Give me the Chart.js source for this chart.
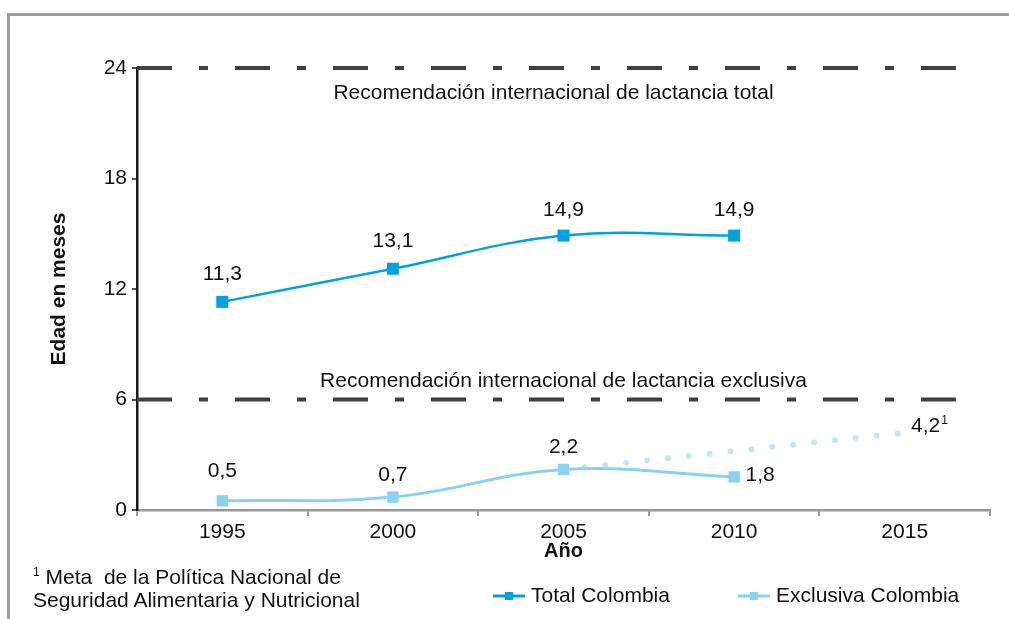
<!DOCTYPE html>
<html>
<head>
<meta charset="utf-8">
<script src="https://cdn.jsdelivr.net/npm/chart.js@4"></script>
<style>
  html, body { margin: 0; padding: 0; background: #fff; }
  body { width: 1009px; height: 619px; position: relative; overflow: hidden; font-family: "Liberation Sans", Arial, sans-serif; }
  #frame { position: absolute; left: 7px; top: 13px; right: -5px; bottom: -5px; border-top: 3px solid #9e9e9e; border-left: 3px solid #9e9e9e; }
  #chart { position: absolute; left: 0; top: 0; }
  #note { position: absolute; left: 33px; top: 565px; font-size: 21px; line-height: 23px; color: #111; }
  #note sup { font-size: 12px; vertical-align: 8px; line-height: 0; }
</style>
</head>
<body>
<div id="frame"></div>
<canvas id="chart" width="1009" height="619"></canvas>
<div id="note"><sup>1</sup> Meta&nbsp; de la Política Nacional de<br>Seguridad Alimentaria y Nutricional</div>
<script>
// values
const years = [1995, 2000, 2005, 2010]
const totalValues = [11.3, 13.1, 14.9, 14.9]
const exclusiveValues = [0.5, 0.7, 2.2, 1.8]
const goalYears = [2005, 2015]
const goalValues = [2.2, 4.2]
const totalText = ['11,3', '13,1', '14,9', '14,9']
const exclusiveText = ['0,5', '0,7', '2,2', '1,8']
const goalText = ['', '4,2']
const tickYears = [1995, 2000, 2005, 2010, 2015]
const xRange = [1992.5, 2017.5]
const yRange = [0, 24]
const yStep = 6
const recTotal = 24
const recExclusive = 6
const recSpan = [1992.5, 2016.5]
const recTotalText = 'Recomendación internacional de lactancia total'
const recExclusiveText = 'Recomendación internacional de lactancia exclusiva'

const FONT = '"Liberation Sans", Arial, sans-serif'
const BLUE = '#00a3e0'
const LIGHT = '#8ad2f1'
const DOTS = '#c3e7f7'
const DARK = '#404040'

const toPoints = (xs, ys) => xs.map((x, i) => ({x: x, y: ys[i]}))

const valueLabels = {
    id: 'valueLabels',
    afterDatasetsDraw(chart) {
        const ctx = chart.ctx
        const area = chart.chartArea
        ctx.save()
        ctx.fillStyle = '#111'
        ctx.textAlign = 'center'
        ctx.textBaseline = 'middle'
        chart.data.datasets.forEach((ds, i) => {
            const meta = chart.getDatasetMeta(i)
            if (ds.caption) {
                ctx.font = '21px ' + FONT
                const y = chart.scales.y.getPixelForValue(ds.data[0].y)
                ctx.fillText(ds.caption, (area.left + area.right) / 2 + ds.captionOffset[0], y + ds.captionOffset[1])
            }
            if (!ds.valueText) return
            meta.data.forEach((pt, j) => {
                const text = ds.valueText[j]
                if (!text) return
                const [dx, dy] = ds.textOffsets[j]
                ctx.font = '21px ' + FONT
                ctx.fillText(text, pt.x + dx, pt.y + dy)
                if (ds.supText && ds.supText[j]) {
                    const w = ctx.measureText(text).width
                    ctx.font = '12px ' + FONT
                    ctx.textAlign = 'left'
                    ctx.fillText(ds.supText[j], pt.x + dx + w / 2 + 1, pt.y + dy - 6)
                    ctx.textAlign = 'center'
                }
            })
        })
        ctx.restore()
    }
}

const lineLegend = {
    id: 'lineLegend',
    afterDraw(chart, args, opts) {
        const ctx = chart.ctx
        ctx.save()
        ctx.font = '21px ' + FONT
        ctx.textBaseline = 'middle'
        let k = 0
        chart.data.datasets.forEach(ds => {
            if (!ds.inLegend) return
            const x = opts.positions[k++]
            const y = opts.y
            ctx.strokeStyle = ds.borderColor
            ctx.lineWidth = 3
            ctx.beginPath()
            ctx.moveTo(x, y)
            ctx.lineTo(x + opts.lineWidth, y)
            ctx.stroke()
            ctx.fillStyle = ds.pointBackgroundColor
            ctx.fillRect(x + opts.lineWidth / 2 - 4, y - 4, 8, 8)
            ctx.fillStyle = '#111'
            ctx.fillText(ds.label, x + opts.lineWidth + 6, y)
        })
        ctx.restore()
    }
}

const ctx = document.getElementById('chart')
new Chart(ctx, {
    type: 'line',
    data: {
        datasets: [
            {
                label: 'Total Colombia',
                data: toPoints(years, totalValues),
                borderColor: BLUE,
                borderWidth: 2.5,
                tension: 0.4,
                pointStyle: 'rect',
                pointRadius: 8.5,
                pointBorderWidth: 0,
                pointBackgroundColor: BLUE,
                valueText: totalText,
                textOffsets: [[0, -28], [0, -28], [0, -25], [0, -25]],
                inLegend: true
            },
            {
                label: 'Exclusiva Colombia',
                data: toPoints(years, exclusiveValues),
                borderColor: LIGHT,
                borderWidth: 3,
                tension: 0.4,
                pointStyle: 'rect',
                pointRadius: 8,
                pointBorderWidth: 0,
                pointBackgroundColor: LIGHT,
                valueText: exclusiveText,
                textOffsets: [[0, -30], [0, -22], [0, -22], [26, -2]],
                inLegend: true
            },
            {
                label: 'Meta',
                data: toPoints(goalYears, goalValues),
                borderColor: DOTS,
                borderWidth: 6,
                borderDash: [0, 21],
                borderCapStyle: 'round',
                pointRadius: 0,
                valueText: goalText,
                supText: ['', '1'],
                textOffsets: [[0, 0], [21, -6]]
            },
            {
                label: 'Rec total',
                data: toPoints(recSpan, [recTotal, recTotal]),
                borderColor: DARK,
                borderWidth: 4,
                borderDash: [35, 27, 9, 27],
                borderCapStyle: 'butt',
                pointRadius: 0,
                clip: false,
                caption: recTotalText,
                captionOffset: [-10, 25]
            },
            {
                label: 'Rec exclusiva',
                data: toPoints(recSpan, [recExclusive, recExclusive]),
                borderColor: DARK,
                borderWidth: 4,
                borderDash: [35, 27, 9, 27],
                borderCapStyle: 'butt',
                pointRadius: 0,
                clip: false,
                caption: recExclusiveText,
                captionOffset: [0, -18]
            }
        ]
    },
    options: {
        responsive: false,
        animation: false,
        layout: {padding: {left: 40, right: 19, top: 68, bottom: 49}},
        plugins: {
            legend: {display: false},
            tooltip: {enabled: false},
            lineLegend: {positions: [493, 738], y: 596, lineWidth: 32}
        },
        scales: {
            x: {
                type: 'linear',
                min: xRange[0],
                max: xRange[1],
                afterFit: s => { s.height = 60 },
                afterBuildTicks: s => {
                    const t = []
                    for (let v = xRange[0]; v <= xRange[1]; v += 2.5) t.push({value: v})
                    s.ticks = t
                },
                ticks: {
                    autoSkip: false,
                    maxRotation: 0,
                    padding: 4,
                    color: '#111',
                    font: {family: FONT, size: 21},
                    callback: v => tickYears.includes(v) ? String(v) : ''
                },
                grid: {
                    drawOnChartArea: false,
                    tickLength: 6,
                    lineWidth: 2,
                    color: c => (c.tick && tickYears.includes(c.tick.value)) ? 'rgba(0,0,0,0)' : '#999'
                },
                border: {color: '#999', width: 2.5},
                title: {
                    display: true,
                    text: 'Año',
                    color: '#111',
                    font: {family: FONT, size: 20, weight: 'bold'},
                    padding: {top: 0, bottom: 7}
                }
            },
            y: {
                min: yRange[0],
                max: yRange[1],
                afterFit: s => { s.width = 97 },
                ticks: {
                    stepSize: yStep,
                    padding: 5,
                    color: '#111',
                    font: {family: FONT, size: 21}
                },
                grid: {
                    drawOnChartArea: false,
                    tickLength: 5,
                    lineWidth: 2,
                    color: '#555'
                },
                border: {color: '#1a1a1a', width: 2.5},
                title: {
                    display: true,
                    text: 'Edad en meses',
                    color: '#111',
                    font: {family: FONT, size: 21, weight: 'bold'},
                    padding: {top: 7, bottom: 0}
                }
            }
        }
    },
    plugins: [valueLabels, lineLegend]
})
</script>
</body>
</html>
